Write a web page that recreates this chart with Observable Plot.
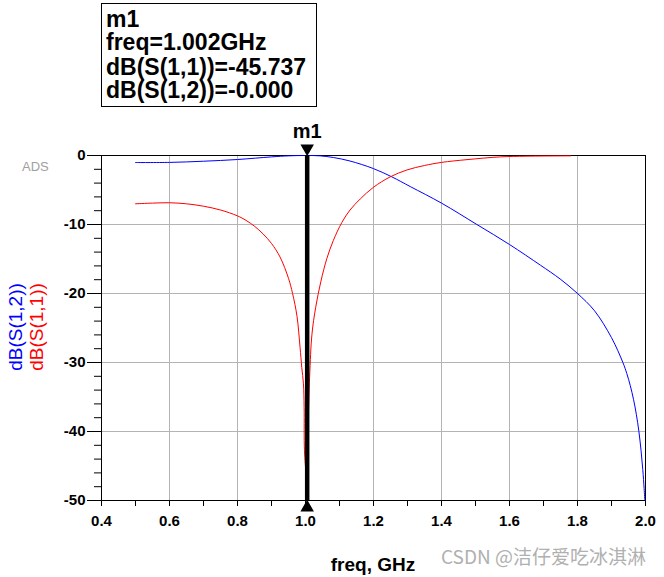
<!DOCTYPE html>
<html><head><meta charset="utf-8">
<script src="https://cdn.jsdelivr.net/npm/d3@7"></script>
<script src="https://cdn.jsdelivr.net/npm/@observablehq/plot@0.6"></script>
<style>
body{margin:0;background:#fff;}
#chart{position:relative;width:664px;height:577px;}
svg{display:block;}
</style>
</head><body><div id="chart"></div>
<script>
// ---- data ----
const s11Freq = [0.5,0.55,0.6,0.65,0.7,0.75,0.8,0.825,0.85,0.875,0.9,0.925,0.95,0.962,0.975,0.984,0.989,0.994,0.996,0.997,1.002,1.012,1.019,1.03,1.045,1.063,1.082,1.107,1.131,1.161,1.2,1.249,1.298,1.35,1.4,1.475,1.573,1.65,1.78];
const s11dB   = [-7.0,-6.9,-6.85,-7.0,-7.35,-7.9,-8.75,-9.4,-10.25,-11.35,-12.75,-14.7,-17.8,-20.0,-23.3,-27.8,-30.7,-33.1,-36.5,-42.8,-45.737,-32.2,-25.9,-22.0,-18.3,-14.9,-12.3,-9.7,-7.9,-6.3,-4.6,-3.1,-2.1,-1.45,-1.0,-0.6,-0.2,-0.1,-0.05];
const s12Freq = [0.5,0.6,0.7,0.8,0.9,0.95,1.0,1.043,1.083,1.131,1.2,1.254,1.308,1.4,1.504,1.6,1.691,1.749,1.8,1.85,1.9,1.9335,1.945,1.955,1.965,1.973,1.9806,1.987,1.992,1.996,1.998];
const s12dB   = [-1.02,-1.0,-0.83,-0.58,-0.2,-0.05,0,-0.05,-0.3,-0.8,-1.9,-3.1,-4.5,-6.9,-10,-12.9,-15.9,-17.9,-20,-22.5,-26.4,-30,-31.6,-33.3,-35.4,-37.5,-40,-42.8,-45.5,-48.3,-50];
const xMajorTicks = [0.4,0.6,0.8,1.0,1.2,1.4,1.6,1.8,2.0];
const xMinorTicks = [0.5,0.7,0.9,1.1,1.3,1.5,1.7,1.9];
const yMajorTicks = [0,-10,-20,-30,-40,-50];
const yMinorTicks = [-2,-4,-6,-8,-12,-14,-16,-18,-22,-24,-26,-28,-32,-34,-36,-38,-42,-44,-46,-48];
const markerName = "m1";
const markerFreq = 1.002;
const markerS11 = "-45.737";
const markerS12 = "-0.000";
const seriesLabels = ["dB(S(1,2))","dB(S(1,1))"];
const xLabel = "freq, GHz";

const s11 = s11Freq.map((f,i)=>({f, v:s11dB[i]}));
const s12 = s12Freq.map((f,i)=>({f, v:s12dB[i]}));

const font = "'Liberation Sans', Arial, sans-serif";
const plot = Plot.plot({
  width: 664, height: 577,
  marginLeft: 101, marginRight: 19, marginTop: 155, marginBottom: 77,
  style: {fontFamily: font, background: "white", overflow: "visible", color: "black"},
  x: {domain: [0.4, 2.0]},
  y: {domain: [-50, 0]},
  marks: [
    Plot.gridX(xMajorTicks.slice(1,-1), {stroke: "#b4b4b4", strokeOpacity: 1}),
    Plot.gridY(yMajorTicks.slice(1,-1), {stroke: "#b4b4b4", strokeOpacity: 1}),
    Plot.axisX(xMajorTicks, {tickSize: 6, tickPadding: 9, tickFormat: d => d.toFixed(1), fontSize: 15, fontWeight: "bold", label: null, stroke: "black"}),
    Plot.axisX(xMinorTicks, {tickSize: 6, tickFormat: () => "", label: null, stroke: "black"}),
    Plot.axisY(yMajorTicks, {tickSize: 14, tickPadding: 2, tickFormat: d => d === 0 ? "0" : String(d), fontSize: 15, fontWeight: "bold", label: null, stroke: "black"}),
    Plot.axisY(yMinorTicks, {tickSize: 7, tickFormat: () => "", label: null, stroke: "black"}),
    Plot.frame({stroke: "black"}),
    Plot.line(s12, {x: "f", y: "v", stroke: "#0000ff", strokeWidth: 1, curve: "catmull-rom"}),
    Plot.line(s11, {x: "f", y: "v", stroke: "#ff0000", strokeWidth: 1, curve: "catmull-rom"}),
    Plot.ruleX([markerFreq], {x: d => d, y1: -50, y2: 0, stroke: "black", strokeWidth: 4.5, dx: 1}),
    Plot.dot([markerFreq], {x: d => d, y: () => 0, symbol: "triangle", r: 5, fill: "black", rotate: 180, dy: -7, dx: 1}),
    Plot.dot([markerFreq], {x: d => d, y: () => -50, symbol: "triangle", r: 5, fill: "black", dy: 7, dx: 1}),
    Plot.text([markerFreq], {x: d => d, y: () => 0, text: () => markerName, dy: -24, dx: 1, fontSize: 20, fontWeight: "bold", fill: "black"})
  ]
});
document.getElementById("chart").appendChild(plot);

const svg = d3.select(plot);
// marker readout box
const box = svg.append("g").attr("text-anchor", "start");
box.append("rect").attr("x", 101.5).attr("y", 3.5).attr("width", 215).attr("height", 103)
  .attr("fill", "white").attr("stroke", "black");
const lines = [markerName, "freq=" + markerFreq.toFixed(3) + "GHz", "dB(S(1,1))=" + markerS11, "dB(S(1,2))=" + markerS12];
const baselines = [27, 50, 74.5, 98];
lines.forEach((t,i) => {
  box.append("text").attr("x", 106).attr("y", baselines[i]).text(t).attr("text-anchor", "start")
    .attr("font-family", font).attr("font-size", 23).attr("font-weight", "bold").attr("fill", "black");
});
// y axis labels
const ylab = [{t: seriesLabels[0], x: 21.5, c: "#0000ff"}, {t: seriesLabels[1], x: 42.5, c: "#ff0000"}];
ylab.forEach(d => {
  svg.append("text").attr("transform", `translate(${d.x},327) rotate(-90)`)
    .attr("text-anchor", "middle").attr("font-family", font).attr("font-size", 19)
    .attr("fill", d.c).text(d.t);
});
// x axis label
svg.append("text").attr("x", 373).attr("y", 571).attr("text-anchor", "middle")
  .attr("font-family", font).attr("font-size", 19).attr("font-weight", "bold").attr("fill", "black").text(xLabel);
// ADS tag
svg.append("text").attr("x", 22).attr("y", 171).attr("text-anchor", "start").attr("font-family", font).attr("font-size", 13)
  .attr("fill", "#a0a0a0").text("ADS");
// watermark
svg.append("text").attr("x", 441).attr("y", 564).attr("text-anchor", "start").attr("font-family", "'Noto Sans CJK SC', 'Noto Sans', sans-serif")
  .attr("font-size", 19).attr("fill", "#b0b0b0").text("CSDN @洁仔爱吃冰淇淋");
</script>
</body></html>
